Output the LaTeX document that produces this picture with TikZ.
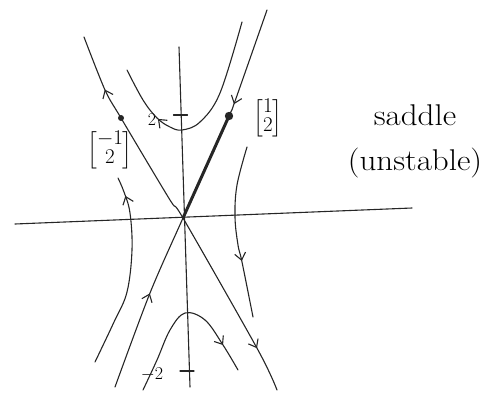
\RequirePackage{fix-cm}
\documentclass[tikz,border=0pt]{standalone}
\usepackage{amsmath}
\usepackage{fontspec}
\usetikzlibrary{arrows.meta,decorations.markings}
\begin{document}
\begin{tikzpicture}[x=1pt,y=-1pt,
  hb/.tip={Straight Barb[length=7pt,width=11pt]},
  curve/.style={line width=1.1pt, black!85, line cap=round, line join=round},
  lbl/.style={inner sep=0pt, font=\fontsize{18}{20}\selectfont},
  vec/.style={inner sep=0pt, font=\fontsize{21}{22}\selectfont},
  txt/.style={inner sep=0pt, font=\fontsize{30}{34}\selectfont, xscale=1.1, transform shape}]
\useasboundingbox (0,0) rectangle (497,393);
% axes
\coordinate (O) at (183,218);
\coordinate (H1) at (15,224); \coordinate (H2) at (412,208);
\coordinate (V1) at (179,47); \coordinate (V2) at (190,387);
\draw[curve] (H1) -- (H2);
\draw[curve] (V1) -- (V2);
% ticks
\coordinate (T1) at (180.5,115); \coordinate (T2) at (187,371);
\draw[curve] ([xshift=-7pt]T1) -- ([xshift=7pt]T1);
\draw[curve] ([xshift=-7pt]T2) -- ([xshift=7pt]T2);
\node[lbl] (t1) at (152,120) {2};
\node[lbl] (t2) at (152,374) {$-2$};
% unstable eigenline
\draw[curve, postaction={decorate}, decoration={markings,
    mark=at position 0.14 with {\arrowreversed{hb}},
    mark=at position 0.885 with {\arrow{hb}}}]
  plot[smooth, tension=0.5] coordinates {(84,37) (105,90) (121,118) (170,200) (183,218) (258,350) (277,390)};
% stable eigenline
\draw[curve, postaction={decorate}, decoration={markings,
    mark=at position 0.245 with {\arrow{hb}},
    mark=at position 0.755 with {\arrowreversed{hb}}}]
  plot[smooth, tension=0.5] coordinates {(267,10) (234,104) (229,116) (183,218) (150,293) (115,387)};
\coordinate (P1) at (229,116);
\coordinate (P2) at (121,118);
\draw[curve, line width=3pt] (P1) -- (O);
\fill[black!85] (P1) circle (4.2pt);
\fill[black!85] (P2) circle (3pt);
\node[vec] (v1) at (268,118) {\renewcommand{\arraystretch}{0.9}$\begin{bmatrix}1\\2\end{bmatrix}$};
\node[vec] (v2) at (110,150) {\renewcommand{\arraystretch}{0.9}$\begin{bmatrix}-1\\2\end{bmatrix}$};
% top trajectory
\draw[curve, postaction={decorate}, decoration={markings,
    mark=at position 0.27 with {\arrowreversed{hb}}}]
  plot[smooth, tension=0.6] coordinates {(127,70) (143,100) (157,118) (170,127) (182,130) (200,122) (220,93) (242,22)};
% right trajectory
\draw[curve, postaction={decorate}, decoration={markings,
    mark=at position 0.67 with {\arrow{hb}}}]
  plot[smooth, tension=0.6] coordinates {(247,147) (237,185) (235,217) (238,245) (242,262) (253,317)};
% left trajectory
\draw[curve, postaction={decorate}, decoration={markings,
    mark=at position 0.9 with {\arrow{hb}}}]
  plot[smooth, tension=0.6] coordinates {(95,362) (114,322) (127,292) (132,250) (130,213) (124,192) (118,178)};
% bottom trajectory
\draw[curve, postaction={decorate}, decoration={markings,
    mark=at position 0.83 with {\arrow{hb}}}]
  plot[smooth, tension=0.6] coordinates {(143,390) (157,360) (170,330) (185,313) (205,320) (223,345) (238,370)};
% text
\node[txt] (s1) at (415,115) {saddle};
\node[txt] (s2) at (415,163) {(unstable)};
\end{tikzpicture}
\end{document}
